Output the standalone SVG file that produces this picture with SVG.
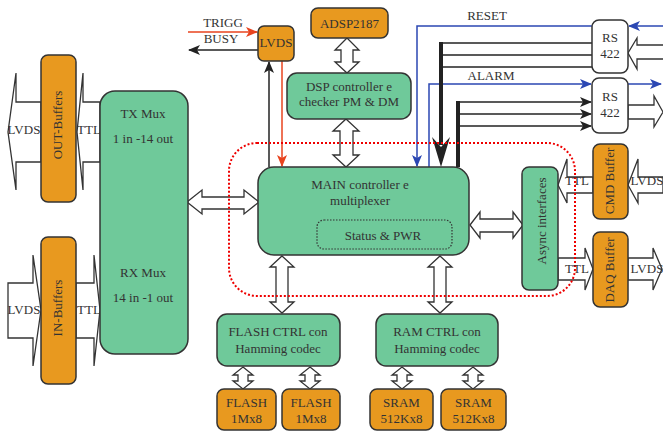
<svg xmlns="http://www.w3.org/2000/svg" width="663" height="432" viewBox="0 0 663 432">
<defs>
<style>
text{font-family:"Liberation Serif","Times New Roman",serif;font-size:13px;fill:#333;text-anchor:middle}
.g{fill:#6FC99A;stroke:#333;stroke-width:1.5}
.o{fill:#E8991F;stroke:#333;stroke-width:1.5}
.w{fill:#fff;stroke:#333;stroke-width:1.5}
.ha{fill:#fff;stroke:#333;stroke-width:1.3;stroke-linejoin:miter}
.bl{fill:none;stroke:#2B47B3;stroke-width:1.5}
.bk{fill:none;stroke:#222;stroke-width:1.5}
.rd{fill:none;stroke:#E8431E;stroke-width:1.5}
</style>
<marker id="mb" viewBox="0 0 12 10" refX="11" refY="5" markerWidth="12" markerHeight="10" markerUnits="userSpaceOnUse" orient="auto"><path d="M0,0 L12,5 L0,10 L3,5 Z" fill="#2B47B3"/></marker>
<marker id="mk" viewBox="0 0 12 10" refX="11" refY="5" markerWidth="12" markerHeight="10" markerUnits="userSpaceOnUse" orient="auto"><path d="M0,0 L12,5 L0,10 L3,5 Z" fill="#222"/></marker>
<marker id="mr" viewBox="0 0 12 10" refX="11" refY="5" markerWidth="12" markerHeight="10" markerUnits="userSpaceOnUse" orient="auto"><path d="M0,0 L12,5 L0,10 L3,5 Z" fill="#E8431E"/></marker>
</defs>
<rect width="663" height="432" fill="#fff"/>

<g id="connectors">
<!-- left side hollow arrows -->
<polygon class="ha" points="41,102 16,102 16,73 8,132 16,190 16,162 41,162"/>
<polygon class="ha" points="100,102 83,102 83,73 77,132 83,190 83,162 100,162"/>
<polygon class="ha" points="8,283 33,283 33,255 41,310 33,366 33,338 8,338"/>
<polygon class="ha" points="76,283 94,283 94,255 100,310 94,366 94,338 76,338"/>
<!-- TX/RX to MAIN -->
<polygon class="ha" points="187,202 202,190 202,197 244,197 244,190 259,202 244,214 244,209 202,209 202,214"/>
<!-- MAIN to Async -->
<polygon class="ha" points="470,225 480,212 480,219 513,219 513,212 523,225 513,238 513,232 480,232 480,238"/>
<!-- ADSP to DSP -->
<polygon class="ha" points="347,38 359,50 353,50 353,62 359,62 347,73 335,62 341,62 341,50 335,50"/>
<!-- DSP to MAIN -->
<polygon class="ha" points="346,119 359,131 353,131 353,155 359,155 346,167 333,155 340,155 340,131 333,131"/>
<!-- MAIN to FLASH CTRL -->
<polygon class="ha" points="282,256 294,267 288,267 288,302 294,302 282,313 270,302 276,302 276,267 270,267"/>
<!-- MAIN to RAM CTRL -->
<polygon class="ha" points="440,256 452,267 446,267 446,302 452,302 440,313 428,302 434,302 434,267 428,267"/>
<!-- memory arrows -->
<polygon class="ha" points="243,367 253,375 248,375 248,381 253,381 243,389 233,381 238,381 238,375 233,375"/>
<polygon class="ha" points="310,367 320,375 315,375 315,381 320,381 310,389 300,381 305,381 305,375 300,375"/>
<polygon class="ha" points="402,367 412,375 407,375 407,381 412,381 402,389 392,381 397,381 397,375 392,375"/>
<polygon class="ha" points="473,367 483,375 478,375 478,381 483,381 473,389 463,381 468,381 468,375 463,375"/>
<!-- CMD buffer arrows -->
<polygon class="ha" points="593,177 567,177 567,159 558,185 567,203 567,193 593,193"/>
<polygon class="ha" points="663,177 638,177 638,159 628,185 638,203 638,193 663,193"/>
<!-- DAQ buffer arrows -->
<polygon class="ha" points="558,258 585,258 585,248 593,269 585,290 585,280 558,280"/>
<polygon class="ha" points="628,258 653,258 653,248 662,269 653,290 653,280 628,280"/>
<!-- RS422 hollow arrows -->
<polygon class="ha" points="664,45 637,45 637,38 628,53 637,69 637,59 664,59"/>
<polygon class="ha" points="628,105 654,105 654,96 663,112 654,127 654,119 628,119"/>
<!-- TRIGG / BUSY -->
<line class="rd" x1="188" y1="32" x2="257" y2="32" marker-end="url(#mr)"/>
<line class="bk" x1="258" y1="50" x2="189" y2="50" marker-end="url(#mk)"/>
<line class="bk" x1="269" y1="167" x2="269" y2="62" marker-end="url(#mk)"/>
<line class="rd" x1="282" y1="61" x2="282" y2="166" marker-end="url(#mr)"/>
<!-- RESET -->
<line class="bl" x1="663" y1="26" x2="629" y2="26" marker-end="url(#mb)"/>
<polyline class="bl" points="592,26 417,26 417,166" marker-end="url(#mb)"/>
<!-- ALARM -->
<polyline class="bl" points="429,167 429,84 591,84" marker-end="url(#mb)"/>
<line class="bl" x1="628" y1="84" x2="661" y2="84" marker-end="url(#mb)"/>
<!-- RS422 #1 bus -->
<line class="bk" x1="441" y1="43" x2="592" y2="43"/>
<line class="bk" x1="441" y1="55" x2="592" y2="55"/>
<line class="bk" x1="441" y1="67" x2="592" y2="67"/>
<line x1="441" y1="42" x2="441" y2="145" stroke="#222" stroke-width="4"/>
<path d="M432,137 L441,167 L450,137 L441,147 Z" fill="#222"/>
<!-- RS422 #2 bus -->
<line x1="458" y1="101" x2="458" y2="167" stroke="#222" stroke-width="4"/>
<line class="bk" x1="458" y1="102" x2="591" y2="102" marker-end="url(#mk)"/>
<line class="bk" x1="458" y1="114" x2="591" y2="114" marker-end="url(#mk)"/>
<line class="bk" x1="458" y1="126" x2="591" y2="126" marker-end="url(#mk)"/>
<!-- red dotted boundary -->
<rect x="229" y="143" width="346" height="153" rx="28" fill="none" stroke="#E00" stroke-width="2" stroke-dasharray="2 2"/>
</g>

<g id="out-buffers"><rect class="o" x="41" y="55" width="35" height="147" rx="7"/><text transform="translate(62,125) rotate(-90)">OUT-Buffers</text></g>
<g id="in-buffers"><rect class="o" x="41" y="237" width="35" height="147" rx="7"/><text transform="translate(62,308) rotate(-90)">IN-Buffers</text></g>
<g id="labels-left"><text x="24" y="134">LVDS</text><text x="89" y="134">TTL</text><text x="24" y="314">LVDS</text><text x="89" y="314">TTL</text></g>
<g id="txrx-mux"><rect class="g" x="100" y="91" width="88" height="263" rx="15"/><text x="143" y="118">TX Mux</text><text x="143" y="143">1 in -14 out</text><text x="143" y="277">RX Mux</text><text x="143" y="302">14 in -1 out</text></g>
<g id="lvds-trig"><rect class="o" x="258" y="26" width="36" height="35" rx="6"/><text x="276" y="47">LVDS</text><text x="223" y="27">TRIGG</text><text x="221" y="43">BUSY</text></g>
<g id="adsp"><rect class="o" x="311" y="8" width="77" height="30" rx="7"/><text x="349.5" y="28">ADSP2187</text></g>
<g id="dsp"><rect class="g" x="287" y="73" width="124" height="46" rx="10"/><text x="349" y="91">DSP controller e</text><text x="349" y="106">checker PM &amp; DM</text></g>
<g id="main"><rect class="g" x="258" y="167" width="211" height="88" rx="16"/><text x="360" y="189">MAIN controller e</text><text x="360" y="205">multiplexer</text><rect x="317" y="220" width="135" height="29" rx="7" fill="none" stroke="#333" stroke-width="1.2" stroke-dasharray="1.5 1.5"/><text x="383" y="240">Status &amp; PWR</text></g>
<g id="async"><rect class="g" x="522" y="167" width="36" height="123" rx="7"/><text transform="translate(546,221) rotate(-90)">Async interfaces</text></g>
<g id="cmd-buffer"><rect class="o" x="593" y="144" width="35" height="75" rx="7"/><text transform="translate(614,181) rotate(-90)">CMD Buffer</text><text x="577" y="185">TTL</text><text x="647" y="185">LVDS</text></g>
<g id="daq-buffer"><rect class="o" x="593" y="232" width="35" height="75" rx="7"/><text transform="translate(614,270) rotate(-90)">DAQ Buffer</text><text x="577" y="273">TTL</text><text x="647" y="273">LVDS</text></g>
<g id="rs422-1"><rect class="w" x="592" y="20" width="36" height="53" rx="7"/><text x="610" y="42">RS</text><text x="610" y="58">422</text><text x="487" y="20">RESET</text></g>
<g id="rs422-2"><rect class="w" x="592" y="78" width="36" height="55" rx="7"/><text x="610" y="101">RS</text><text x="610" y="117">422</text><text x="491" y="80">ALARM</text></g>
<g id="flash-ctrl"><rect class="g" x="217" y="314" width="123" height="52" rx="10"/><text x="278" y="336">FLASH CTRL con</text><text x="278" y="353">Hamming codec</text></g>
<g id="ram-ctrl"><rect class="g" x="376" y="314" width="122" height="52" rx="10"/><text x="437" y="336">RAM CTRL con</text><text x="437" y="353">Hamming codec</text></g>
<g id="flash1"><rect class="o" x="217" y="389" width="59" height="41" rx="7"/><text x="246.5" y="407">FLASH</text><text x="246.5" y="423">1Mx8</text></g>
<g id="flash2"><rect class="o" x="282" y="389" width="58" height="41" rx="7"/><text x="311" y="407">FLASH</text><text x="311" y="423">1Mx8</text></g>
<g id="sram1"><rect class="o" x="370" y="389" width="63" height="41" rx="7"/><text x="401.5" y="407">SRAM</text><text x="401.5" y="423">512Kx8</text></g>
<g id="sram2"><rect class="o" x="441" y="389" width="65" height="41" rx="7"/><text x="473.5" y="407">SRAM</text><text x="473.5" y="423">512Kx8</text></g>
</svg>
